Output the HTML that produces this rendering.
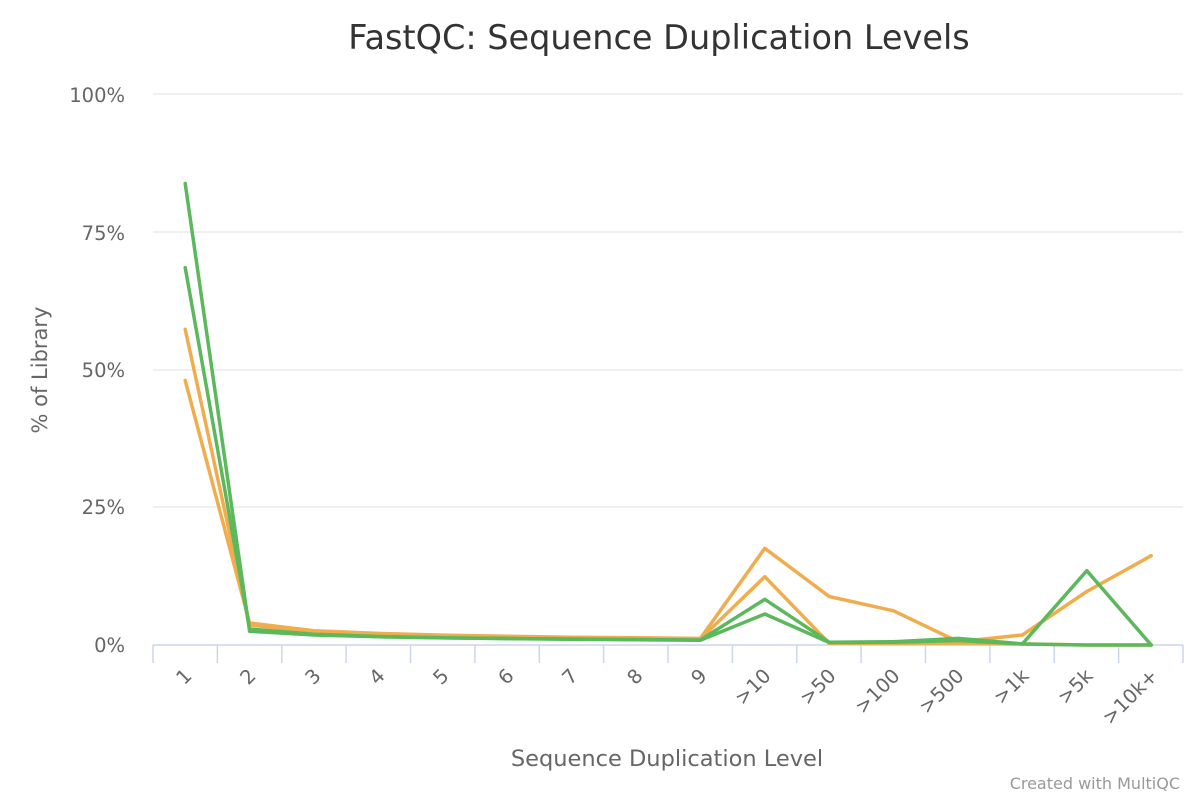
<!DOCTYPE html>
<html><head><meta charset="utf-8"><style>
html,body{margin:0;padding:0;background:#fff;}
svg text{font-family:"DejaVu Sans","Liberation Sans",sans-serif;}
</style></head><body>
<svg width="1200" height="800" viewBox="0 0 1200 800" xmlns="http://www.w3.org/2000/svg">
<rect width="1200" height="800" fill="#fff"/>
<text x="659" y="49" text-anchor="middle" font-size="33.5" fill="#333">FastQC: Sequence Duplication Levels</text>
<g stroke="#e6e6e6" stroke-width="1.3">
<line x1="153" x2="1183" y1="94" y2="94"/>
<line x1="153" x2="1183" y1="232" y2="232"/>
<line x1="153" x2="1183" y1="370" y2="370"/>
<line x1="153" x2="1183" y1="507" y2="507"/>
</g>
<g font-size="19.5" fill="#666" text-anchor="end">
<text x="125" y="102">100%</text>
<text x="125" y="240">75%</text>
<text x="125" y="377">50%</text>
<text x="125" y="514">25%</text>
<text x="125" y="652">0%</text>
</g>
<text transform="translate(47,370) rotate(-90)" text-anchor="middle" font-size="21" fill="#666">% of Library</text>
<g stroke="#ccd6eb" stroke-width="1.5">
<line x1="153" x2="1183" y1="645" y2="645"/>
<line x1="153" x2="153" y1="645" y2="663"/><line x1="217.4" x2="217.4" y1="645" y2="663"/><line x1="281.8" x2="281.8" y1="645" y2="663"/><line x1="346.1" x2="346.1" y1="645" y2="663"/><line x1="410.5" x2="410.5" y1="645" y2="663"/><line x1="474.9" x2="474.9" y1="645" y2="663"/><line x1="539.3" x2="539.3" y1="645" y2="663"/><line x1="603.6" x2="603.6" y1="645" y2="663"/><line x1="668" x2="668" y1="645" y2="663"/><line x1="732.4" x2="732.4" y1="645" y2="663"/><line x1="796.8" x2="796.8" y1="645" y2="663"/><line x1="861.1" x2="861.1" y1="645" y2="663"/><line x1="925.5" x2="925.5" y1="645" y2="663"/><line x1="989.9" x2="989.9" y1="645" y2="663"/><line x1="1054.3" x2="1054.3" y1="645" y2="663"/><line x1="1118.6" x2="1118.6" y1="645" y2="663"/><line x1="1183" x2="1183" y1="645" y2="663"/>
</g>
<g font-size="19.5" fill="#666" text-anchor="end">
<text transform="translate(193,677) rotate(-45)">1</text>
<text transform="translate(257,677) rotate(-45)">2</text>
<text transform="translate(322,677) rotate(-45)">3</text>
<text transform="translate(386,677) rotate(-45)">4</text>
<text transform="translate(450,677) rotate(-45)">5</text>
<text transform="translate(515,677) rotate(-45)">6</text>
<text transform="translate(579,677) rotate(-45)">7</text>
<text transform="translate(644,677) rotate(-45)">8</text>
<text transform="translate(708,677) rotate(-45)">9</text>
<text transform="translate(772,677) rotate(-45)">&gt;10</text>
<text transform="translate(837,677) rotate(-45)">&gt;50</text>
<text transform="translate(901,677) rotate(-45)">&gt;100</text>
<text transform="translate(965,677) rotate(-45)">&gt;500</text>
<text transform="translate(1030,677) rotate(-45)">&gt;1k</text>
<text transform="translate(1094,677) rotate(-45)">&gt;5k</text>
<text transform="translate(1159,677) rotate(-45)">&gt;10k+</text>
</g>
<text x="667" y="766" text-anchor="middle" font-size="22.5" fill="#666">Sequence Duplication Level</text>
<text x="1180" y="789" text-anchor="end" font-size="16" fill="#999">Created with MultiQC</text>
<g fill="none" stroke-width="3.5" stroke-linejoin="round" stroke-linecap="round">
<polyline stroke="#f0ad4e" points="185.2,380.5 249.6,623 314,630.7 378.4,633.4 442.8,635.1 507.2,636.2 571.6,637.3 636,637.8 700.4,638.4 764.8,548.3 829.2,596.5 893.6,610.8 958,641.7 1022.4,635 1086.8,591.5 1151.2,555.7"/>
<polyline stroke="#f0ad4e" points="185.2,329.3 249.6,625 314,632 378.4,634.5 442.8,636 507.2,637 571.6,637.8 636,638.4 700.4,639 764.8,576.7 829.2,643.3 893.6,643.5 958,643.5 1022.4,643.9 1086.8,645 1151.2,645"/>
<polyline stroke="#5cb85c" points="185.2,183.5 249.6,631.2 314,635 378.4,636.8 442.8,637.9 507.2,638.5 571.6,639 636,639.5 700.4,640 764.8,599.3 829.2,642.2 893.6,641.7 958,638.4 1022.4,643.9 1086.8,570.7 1151.2,645"/>
<polyline stroke="#5cb85c" points="185.2,267.6 249.6,629 314,634.3 378.4,636.5 442.8,637.8 507.2,638.6 571.6,639.2 636,639.7 700.4,640.2 764.8,614 829.2,642.5 893.6,642.2 958,640.5 1022.4,644 1086.8,645 1151.2,645"/>
</g>
</svg>
</body></html>
